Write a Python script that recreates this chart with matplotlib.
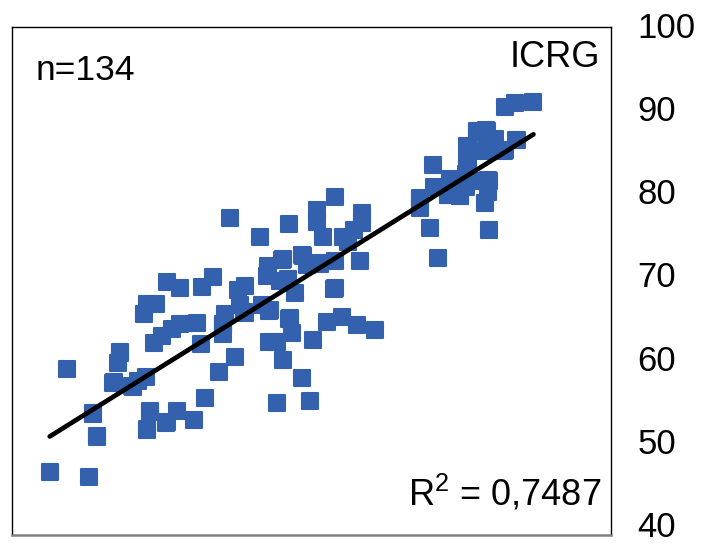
import numpy as np
import matplotlib
matplotlib.use("Agg")
import matplotlib.pyplot as plt
from matplotlib.markers import MarkerStyle
from matplotlib.transforms import ScaledTranslation

plt.rcParams['font.family'] = ['Liberation Sans', 'DejaVu Sans']
plt.rcParams['mathtext.fontset'] = 'custom'
plt.rcParams['mathtext.rm'] = 'Liberation Sans'
plt.rcParams['mathtext.it'] = 'Liberation Sans'

# Datos (eje x sin escala: indice 0-100, eje y: ICRG)
# Los ultimos valores son puntos que quedan tapados bajo otros cuadrados
x_vals = [6.3, 12.9, 14.2, 13.5, 9.2, 18.0, 17.7, 16.9, 20.2, 22.4,
          21.0, 23.0, 22.5, 25.9, 27.5, 30.4, 32.2, 23.7, 25.0, 26.7,
          28.0, 30.9, 31.6, 22.0, 22.5, 24.0, 25.9, 28.0, 31.7, 33.6,
          34.6, 37.2, 35.6, 35.2, 35.2, 38.1, 38.9, 37.7, 38.9, 41.7,
          43.1, 46.4, 46.7, 42.9, 44.2, 50.3, 52.6, 55.1, 57.6, 60.6,
          53.9, 47.2, 45.2, 48.4, 44.2, 49.7, 42.7, 45.2, 42.6, 44.7,
          46.1, 48.6, 49.2, 51.4, 53.9, 58.1, 36.4, 41.4, 46.2, 53.9,
          50.9, 50.9, 51.9, 55.3, 56.1, 58.4, 58.4, 57.1, 68.1, 68.1,
          69.9, 71.1, 70.3, 70.5, 73.1, 72.8, 74.8, 75.8, 76.0, 76.0,
          77.6, 79.3, 80.6, 84.3, 79.0, 82.3, 79.5, 79.5, 79.0, 79.6,
          82.3, 84.0, 87.1, 75.8, 77.5,
          68.2, 72.9, 74.9, 77.7, 79.2, 80.5, 84.2, 79.1, 82.2, 76.1,
          76.1, 79.6, 18.1, 14.2, 13.6, 22.6, 25.8, 23.1, 17.0, 20.1,
          42.8, 45.1, 48.5, 51.3, 38.8, 43.0, 35.3, 46.3, 53.8]
y_vals = [47.4, 46.9, 51.7, 54.4, 59.6, 61.6, 60.3, 58.0, 57.5, 58.7,
          58.2, 54.6, 52.4, 53.3, 54.6, 53.6, 56.2, 62.7, 63.5, 64.3,
          64.9, 65.0, 62.6, 66.1, 67.3, 67.3, 69.9, 69.2, 69.3, 70.5,
          59.3, 61.0, 66.1, 64.8, 63.7, 67.2, 66.2, 68.9, 69.4, 67.2,
          66.6, 65.6, 63.9, 62.8, 62.8, 63.0, 65.2, 65.7, 64.8, 64.2,
          69.2, 68.6, 60.7, 58.5, 55.6, 55.8, 71.8, 72.6, 70.6, 70.0,
          70.2, 73.0, 71.9, 72.0, 72.4, 72.3, 77.4, 75.2, 76.7, 79.9,
          78.4, 77.0, 75.2, 75.2, 74.6, 78.0, 76.8, 76.0, 79.8, 78.6,
          76.3, 72.7, 83.7, 81.1, 82.0, 80.2, 80.0, 82.6, 85.9, 84.2,
          87.7, 87.7, 86.8, 86.7, 85.4, 85.5, 81.9, 80.5, 79.2, 76.0,
          90.5, 91.0, 91.1, 81.1, 81.8,
          79.7, 80.1, 80.0, 87.6, 87.8, 86.7, 86.6, 85.5, 85.4, 85.8,
          84.3, 81.8, 61.5, 51.6, 54.3, 52.5, 53.2, 54.5, 58.1, 57.6,
          71.7, 72.5, 73.1, 72.1, 66.3, 66.5, 64.9, 65.5, 69.1]

y_ticks = [40, 50, 60, 70, 80, 90, 100]
texto_n = "n=134"
texto_indice = "ICRG"
texto_r2 = "R$^2$ = 0,7487"

x = np.array(x_vals)
y = np.array(y_vals)

# Recta de regresion lineal
pendiente, intercepto = np.polyfit(x, y, 1)
x_linea = np.array([x.min(), x.max()])
y_linea = pendiente * x_linea + intercepto

fig = plt.figure(figsize=(7.06, 5.47), dpi=100)
ax = fig.add_axes([0.017, 0.022, 0.848, 0.9287])

marcador = MarkerStyle('s', joinstyle='round')
ax.plot(x, y, linestyle='none', marker=marcador, markersize=11.5,
        markerfacecolor='#3361ad', markeredgecolor='#3361ad',
        markeredgewidth=1.5, zorder=2)
ax.plot(x_linea, y_linea, color='black', linewidth=3.4, solid_capstyle='round', zorder=3)

ax.set_xlim(0, 100)
ax.set_ylim(40, 100)
ax.set_xticks([])
ax.set_yticks(y_ticks)
ax.yaxis.tick_right()
ax.tick_params(axis='y', length=0, pad=19, labelsize=25)

# Las etiquetas del eje quedan un poco mas juntas que las marcas
for tick, valor in zip(ax.yaxis.get_major_ticks(), y_ticks):
    subida = (1.5 + (100 - valor) / 60 * 6.5) / 72
    lab = tick.label2
    lab.set_horizontalalignment('left')
    lab.set_transform(lab.get_transform() + ScaledTranslation(0, subida, fig.dpi_scale_trans))

for lado in ['left', 'right', 'top']:
    ax.spines[lado].set_linewidth(1)
    ax.spines[lado].set_color('black')
ax.spines['bottom'].set_linewidth(1.8)
ax.spines['bottom'].set_color('#808080')

ax.text(0.04, 0.915, texto_n, transform=ax.transAxes, fontsize=25.5,
        ha='left', va='center')
ax.text(0.982, 0.939, texto_indice, transform=ax.transAxes, fontsize=26,
        ha='right', va='center')
ax.text(0.985, 0.058, texto_r2, transform=ax.transAxes, fontsize=26,
        ha='right', va='baseline')

plt.savefig('out.png', dpi=100)
